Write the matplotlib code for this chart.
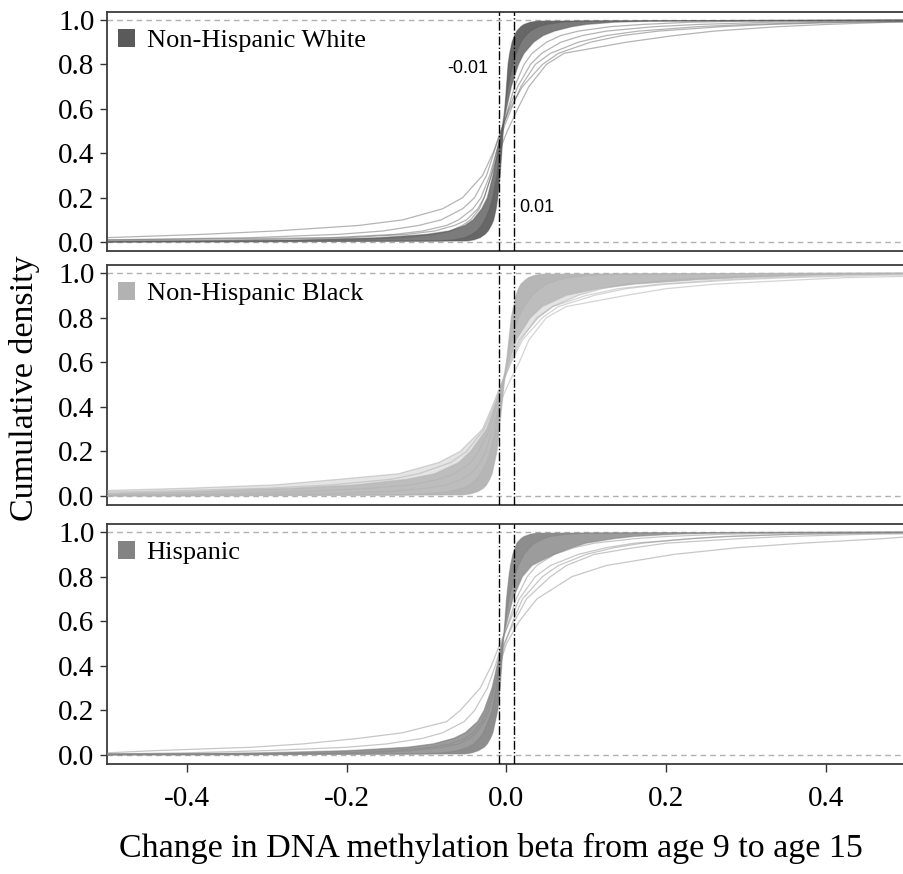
import numpy as np
import matplotlib
matplotlib.use("Agg")
import matplotlib.pyplot as plt
from matplotlib.patches import Patch

# Cumulative probability levels at which each curve's quantile (x) is listed
LEVELS = [0.005, 0.01, 0.02, 0.035, 0.05, 0.075, 0.1, 0.15, 0.2, 0.3, 0.4, 0.5,
          0.6, 0.7, 0.8, 0.85, 0.9, 0.93, 0.95, 0.97, 0.98, 0.99, 0.995]
nan = np.nan

groups = ["Non-Hispanic White", "Non-Hispanic Black", "Hispanic"]
group_colors = ["#5a5a5a", "#b2b2b2", "#838383"]

# Quantiles per curve; the first three curves bound the dense core (narrow, middle, wide)
nhw_quantiles = [
    [-0.050, -0.041, -0.033, -0.027, -0.023, -0.019, -0.016, -0.013, -0.011, -0.008, -0.006, -0.004, -0.002, 0.000, 0.002, 0.004, 0.007, 0.010, 0.013, 0.018, 0.022, 0.030, 0.040],
    [-0.085, -0.066, -0.052, -0.043, -0.037, -0.031, -0.027, -0.021, -0.017, -0.012, -0.009, -0.006, -0.002, 0.002, 0.008, 0.012, 0.018, 0.024, 0.030, 0.040, 0.050, 0.068, 0.090],
    [-0.400, -0.260, -0.160, -0.100, -0.072, -0.052, -0.042, -0.031, -0.024, -0.017, -0.012, -0.006, 0.000, 0.006, 0.015, 0.022, 0.034, 0.046, 0.060, 0.082, 0.100, 0.135, 0.180],
    [nan, -0.500, -0.320, -0.210, -0.155, -0.110, -0.082, -0.055, -0.040, -0.025, -0.016, -0.007, 0.003, 0.014, 0.030, 0.044, 0.068, 0.095, 0.125, 0.185, 0.240, 0.330, 0.420],
    [nan, nan, -0.500, -0.380, -0.290, -0.185, -0.130, -0.080, -0.055, -0.030, -0.017, -0.007, 0.004, 0.020, 0.045, 0.065, 0.105, 0.145, 0.190, 0.270, 0.330, 0.430, nan],
    [-0.300, -0.200, -0.130, -0.090, -0.070, -0.055, -0.045, -0.034, -0.028, -0.019, -0.010, 0.001, 0.014, 0.028, 0.050, 0.072, 0.150, 0.210, 0.260, 0.340, 0.400, 0.480, nan],
    [nan, -0.480, -0.220, -0.140, -0.105, -0.075, -0.060, -0.042, -0.032, -0.021, -0.013, -0.005, 0.006, 0.018, 0.036, 0.055, 0.090, 0.125, 0.165, 0.240, 0.300, 0.400, nan],
    [-0.500, -0.330, -0.200, -0.125, -0.090, -0.065, -0.050, -0.036, -0.028, -0.019, -0.013, -0.006, 0.002, 0.010, 0.022, 0.032, 0.050, 0.068, 0.090, 0.130, 0.170, 0.230, 0.300],
]
nhw_left = [0.0, 0.0, 0.002, 0.010, 0.020, 0.003, 0.010, 0.005]
nhw_right = [1.0, 1.0, 0.999, 0.996, 0.993, 0.991, 0.993, 0.998]

nhb_quantiles = [
    [-0.055, -0.045, -0.036, -0.029, -0.025, -0.021, -0.018, -0.015, -0.012, -0.009, -0.006, -0.003, 0.000, 0.003, 0.006, 0.009, 0.012, 0.015, 0.018, 0.024, 0.028, 0.036, 0.045],
    [-0.130, -0.100, -0.072, -0.055, -0.046, -0.038, -0.032, -0.025, -0.020, -0.014, -0.010, -0.005, 0.000, 0.006, 0.015, 0.022, 0.032, 0.042, 0.050, 0.066, 0.080, 0.105, 0.140],
    [nan, nan, -0.400, -0.270, -0.190, -0.125, -0.090, -0.060, -0.045, -0.025, -0.015, -0.006, 0.003, 0.012, 0.030, 0.045, 0.075, 0.115, 0.160, 0.240, 0.300, 0.380, 0.450],
    [nan, nan, nan, -0.400, -0.290, -0.210, -0.135, -0.085, -0.058, -0.030, -0.018, -0.007, 0.004, 0.016, 0.040, 0.058, 0.090, 0.120, 0.150, 0.210, 0.260, 0.340, 0.420],
    [-0.350, -0.230, -0.150, -0.100, -0.075, -0.056, -0.045, -0.033, -0.026, -0.017, -0.010, 0.002, 0.016, 0.028, 0.050, 0.075, 0.150, 0.200, 0.260, 0.370, 0.430, nan, nan],
    [nan, nan, -0.460, -0.300, -0.220, -0.145, -0.110, -0.070, -0.050, -0.028, -0.016, -0.006, 0.006, 0.020, 0.045, 0.065, 0.110, 0.150, 0.200, 0.290, 0.360, 0.470, nan],
    [-0.450, -0.340, -0.250, -0.170, -0.120, -0.085, -0.065, -0.045, -0.035, -0.021, -0.013, -0.005, 0.005, 0.018, 0.038, 0.058, 0.100, 0.140, 0.190, 0.270, 0.330, 0.420, 0.480],
]
nhb_left = [0.0, 0.0, 0.012, 0.025, 0.003, 0.018, 0.004]
nhb_right = [1.0, 1.0, 0.998, 0.997, 0.985, 0.991, 0.996]

his_quantiles = [
    [-0.052, -0.043, -0.035, -0.028, -0.024, -0.020, -0.017, -0.014, -0.011, -0.008, -0.006, -0.004, -0.002, 0.000, 0.003, 0.005, 0.008, 0.011, 0.013, 0.018, 0.022, 0.030, 0.038],
    [-0.105, -0.080, -0.061, -0.048, -0.041, -0.034, -0.029, -0.023, -0.018, -0.013, -0.009, -0.005, -0.001, 0.003, 0.010, 0.015, 0.022, 0.029, 0.035, 0.046, 0.055, 0.075, 0.100],
    [-0.450, -0.310, -0.200, -0.125, -0.092, -0.066, -0.052, -0.036, -0.028, -0.018, -0.012, -0.006, 0.001, 0.008, 0.020, 0.032, 0.060, 0.082, 0.100, 0.135, 0.160, 0.210, 0.260],
    [nan, -0.500, -0.440, -0.320, -0.255, -0.185, -0.130, -0.075, -0.058, -0.033, -0.019, -0.008, 0.004, 0.016, 0.036, 0.055, 0.090, 0.125, 0.160, 0.230, 0.270, 0.360, 0.450],
    [-0.300, -0.200, -0.140, -0.095, -0.070, -0.052, -0.042, -0.031, -0.025, -0.016, -0.009, 0.000, 0.016, 0.038, 0.082, 0.125, 0.210, 0.290, 0.370, 0.470, nan, nan, nan],
    [-0.380, -0.260, -0.180, -0.120, -0.090, -0.065, -0.050, -0.036, -0.028, -0.018, -0.011, -0.003, 0.010, 0.025, 0.055, 0.075, 0.110, 0.160, 0.200, 0.290, 0.350, 0.450, nan],
    [-0.250, -0.170, -0.120, -0.080, -0.060, -0.046, -0.038, -0.028, -0.022, -0.015, -0.009, -0.002, 0.008, 0.020, 0.045, 0.065, 0.100, 0.135, 0.170, 0.230, 0.280, 0.360, 0.450],
    [-0.500, -0.400, -0.300, -0.200, -0.150, -0.105, -0.080, -0.053, -0.040, -0.024, -0.014, -0.006, 0.003, 0.012, 0.026, 0.038, 0.060, 0.085, 0.110, 0.160, 0.200, 0.270, 0.350],
]
his_left = [0.0, 0.0, 0.003, 0.010, 0.004, 0.006, 0.003, 0.005]
his_right = [1.0, 1.0, 0.999, 0.996, 0.978, 0.992, 0.997, 0.998]

cut_low, cut_high = -0.01, 0.01
x_ticks = [-0.4, -0.2, 0.0, 0.2, 0.4]
y_ticks = [0.0, 0.2, 0.4, 0.6, 0.8, 1.0]

panel_data = [
    (nhw_quantiles, nhw_left, nhw_right),
    (nhb_quantiles, nhb_left, nhb_right),
    (his_quantiles, his_left, his_right),
]

serif = ["Liberation Serif", "DejaVu Serif"]
sans = ["Liberation Sans", "DejaVu Sans"]
plt.rcParams["font.family"] = serif


def curve(q, y_left, y_right):
    """Return the (x, y) path of one cumulative curve across the full x range."""
    xs, ys = [-0.5], [y_left]
    for lvl, xv in zip(LEVELS, q):
        if not np.isnan(xv):
            xs.append(xv)
            ys.append(lvl)
    xs.append(0.5)
    ys.append(y_right)
    return np.array(xs), np.array(ys)


def band(ax, c_a, c_b, color, alpha):
    xa, ya = c_a
    xb, yb = c_b
    ax.fill(np.concatenate([xa, xb[::-1]]), np.concatenate([ya, yb[::-1]]),
            color=color, alpha=alpha, lw=0, zorder=2)


fig = plt.figure(figsize=(9.04, 8.74), dpi=100)
W, H = 904, 874
left_px, right_px = 107, 906
panel_px = [(12, 251), (265, 505), (524, 764)]

core_alpha = [0.8, 0.85, 0.8]
line_alpha = [0.45, 0.55, 0.45]

axes = []
for i, (top, bot) in enumerate(panel_px):
    ax = fig.add_axes([left_px / W, 1 - bot / H, (right_px - left_px) / W, (bot - top) / H])
    axes.append(ax)
    color = group_colors[i]
    quantiles, yl, yr = panel_data[i]

    ax.axhline(0, color="#b0b0b0", lw=1.0, ls=(0, (4, 3)), zorder=1)
    ax.axhline(1, color="#b0b0b0", lw=1.0, ls=(0, (4, 3)), zorder=1)

    curves = [curve(q, a, b) for q, a, b in zip(quantiles, yl, yr)]
    band(ax, curves[0], curves[2], color, core_alpha[i])
    band(ax, curves[0], curves[1], color, 0.6)
    if i == 1:
        band(ax, curves[2], curves[3], color, 0.35)
    for xs, ys in curves:
        ax.plot(xs, ys, color=color, lw=0.9, alpha=line_alpha[i], zorder=3,
                solid_joinstyle="round")

    ax.axvline(cut_low, color="black", lw=1.0, ls="-.", zorder=4)
    ax.axvline(cut_high, color="black", lw=1.0, ls="-.", zorder=4)

    ax.set_xlim(-0.5, 0.5)
    ax.set_ylim(-0.04, 1.036)
    ax.set_yticks(y_ticks)
    ax.set_yticklabels([f"{v:.1f}" for v in y_ticks], fontsize=21)
    ax.set_xticks(x_ticks)
    if i < 2:
        ax.tick_params(axis="x", bottom=False, labelbottom=False)
    else:
        ax.set_xticklabels([f"{v:.1f}" for v in x_ticks], fontsize=21)
        ax.tick_params(axis="x", length=6, width=1.0, pad=10, colors="#333333",
                       labelcolor="black")
    ax.tick_params(axis="y", length=5, width=1.0, pad=4, colors="#333333",
                   labelcolor="black")
    for sp in ax.spines.values():
        sp.set_color("#3a3a3a")
        sp.set_linewidth(1.3)

    ax.legend(handles=[Patch(facecolor=color, edgecolor="none")], labels=[groups[i]],
              loc="upper left", bbox_to_anchor=(0.0, 0.972), frameon=False,
              fontsize=19, handlelength=0.65, handleheight=0.65, handletextpad=0.45,
              borderaxespad=0.0)

axes[0].text(-0.0225, 0.78, "-0.01", ha="right", va="center", fontsize=13, family=sans)
axes[0].text(0.0155, 0.155, "0.01", ha="left", va="center", fontsize=13, family=sans)

fig.text(25 / W, 1 - 388 / H, "Cumulative density", rotation=90, ha="center", va="center",
         fontsize=24.5)
fig.text(491 / W, 1 - 848 / H,
         "Change in DNA methylation beta from age 9 to age 15",
         ha="center", va="center", fontsize=24.5)

fig.savefig("out.png", dpi=100)
